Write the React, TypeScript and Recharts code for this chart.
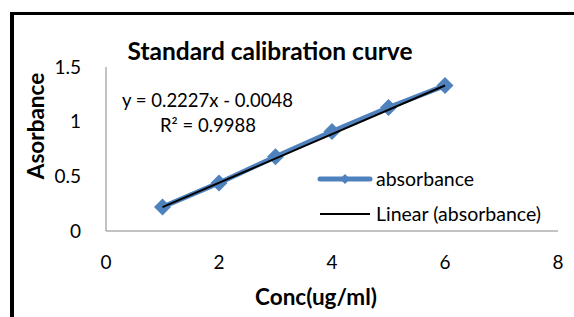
import { ScatterChart, Scatter, XAxis, YAxis } from 'recharts';

const concentrations = [1, 2, 3, 4, 5, 6];
const absorbance = [0.22, 0.44, 0.68, 0.91, 1.13, 1.33];

// linear trendline end points (from the fitted equation)
const trendX = [1, 6];
const trendY = [0.218, 1.331];

const xTicks = [0, 2, 4, 6, 8];
const yTicks = [0, 0.5, 1, 1.5];

const FONT = 'Lato, Carlito, Calibri, sans-serif';
const BLUE = '#4F81BD';
const AXIS = '#868686';

const pointData = concentrations.map((x, i) => ({ x, y: absorbance[i] }));
const trendData = trendX.map((x, i) => ({ x, y: trendY[i] }));

// diamond marker like Excel's default
const Diamond = (props: any) => {
  const { cx, cy } = props;
  const r = 8.5;
  return <path d={`M${cx},${cy - r}L${cx + r},${cy}L${cx},${cy + r}L${cx - r},${cy}Z`} fill={BLUE} />;
};

const NoMarker = () => <g />;

const LegendBox = () => (
  <div style={{ position: 'absolute', left: 317, top: 161, fontFamily: FONT, fontSize: 19.5, color: '#000' }}>
    <div style={{ display: 'flex', alignItems: 'center', height: 35 }}>
      <svg width={56} height={14}>
        <line x1={3} y1={7} x2={53} y2={7} stroke={BLUE} strokeWidth={5} strokeLinecap="round" />
        <path d="M28,2L33,7L28,12L23,7Z" fill={BLUE} />
      </svg>
      <span style={{ marginLeft: 3 }}>absorbance</span>
    </div>
    <div style={{ display: 'flex', alignItems: 'center', height: 35 }}>
      <svg width={56} height={14}>
        <line x1={3} y1={7} x2={53} y2={7} stroke="#000" strokeWidth={2} />
      </svg>
      <span style={{ marginLeft: 3 }}>Linear (absorbance)</span>
    </div>
  </div>
);

export default function App() {
  return (
    <div style={{ position: 'absolute', left: 0, top: 0, width: 574, height: 317, overflow: 'hidden', background: '#fff', fontFamily: FONT }}>
      <div
        style={{
          position: 'absolute',
          left: 10,
          top: 12,
          width: 700,
          height: 400,
          borderTop: '3px solid #000',
          borderLeft: '4px solid #000',
        }}
      />
      <ScatterChart
        width={574}
        height={317}
        margin={{ top: 67, right: 16, bottom: 0, left: 48 }}
        style={{ position: 'absolute', left: 0, top: 0 }}
      >
        <XAxis
          type="number"
          dataKey="x"
          domain={[0, 8]}
          ticks={xTicks}
          tickLine={false}
          tickSize={0}
          tickMargin={25}
          stroke={AXIS}
          tick={{ fill: '#000', fontSize: 19, fontFamily: FONT }}
          height={86}
        />
        <YAxis
          type="number"
          dataKey="y"
          domain={[0, 1.5]}
          ticks={yTicks}
          tickLine={false}
          tickSize={0}
          tickMargin={25}
          stroke={AXIS}
          width={58}
          tick={{ fill: '#000', fontSize: 19, fontFamily: FONT }}
        />
        <Scatter
          name="absorbance"
          data={pointData}
          fill={BLUE}
          line={{ stroke: BLUE, strokeWidth: 5 }}
          lineType="joint"
          shape={<Diamond />}
          isAnimationActive={false}
        />
        <Scatter
          name="Linear (absorbance)"
          data={trendData}
          fill="#000"
          line={{ stroke: '#000', strokeWidth: 2 }}
          lineType="joint"
          shape={<NoMarker />}
          isAnimationActive={false}
        />
      </ScatterChart>
      <LegendBox />
      <div style={{ position: 'absolute', left: 0, width: 540, top: 35, textAlign: 'center', fontSize: 24.5, fontWeight: 700, lineHeight: '32px' }}>
        Standard calibration curve
      </div>
      <div style={{ position: 'absolute', left: 122, top: 87, fontSize: 18.5, lineHeight: '26px' }}>
        y = 0.2227x - 0.0048
      </div>
      <div style={{ position: 'absolute', left: 160, top: 112, fontSize: 18.5, lineHeight: '26px' }}>
        R² = 0.9988
      </div>
      <div
        style={{
          position: 'absolute',
          left: 35,
          top: 126,
          transform: 'translate(-50%, -50%) rotate(-90deg)',
          fontSize: 22.5,
          fontWeight: 700,
          whiteSpace: 'nowrap',
        }}
      >
        Asorbance
      </div>
      <div style={{ position: 'absolute', left: 216, width: 200, top: 283, textAlign: 'center', fontSize: 22.5, fontWeight: 700, lineHeight: '28px' }}>
        Conc(ug/ml)
      </div>
    </div>
  );
}
